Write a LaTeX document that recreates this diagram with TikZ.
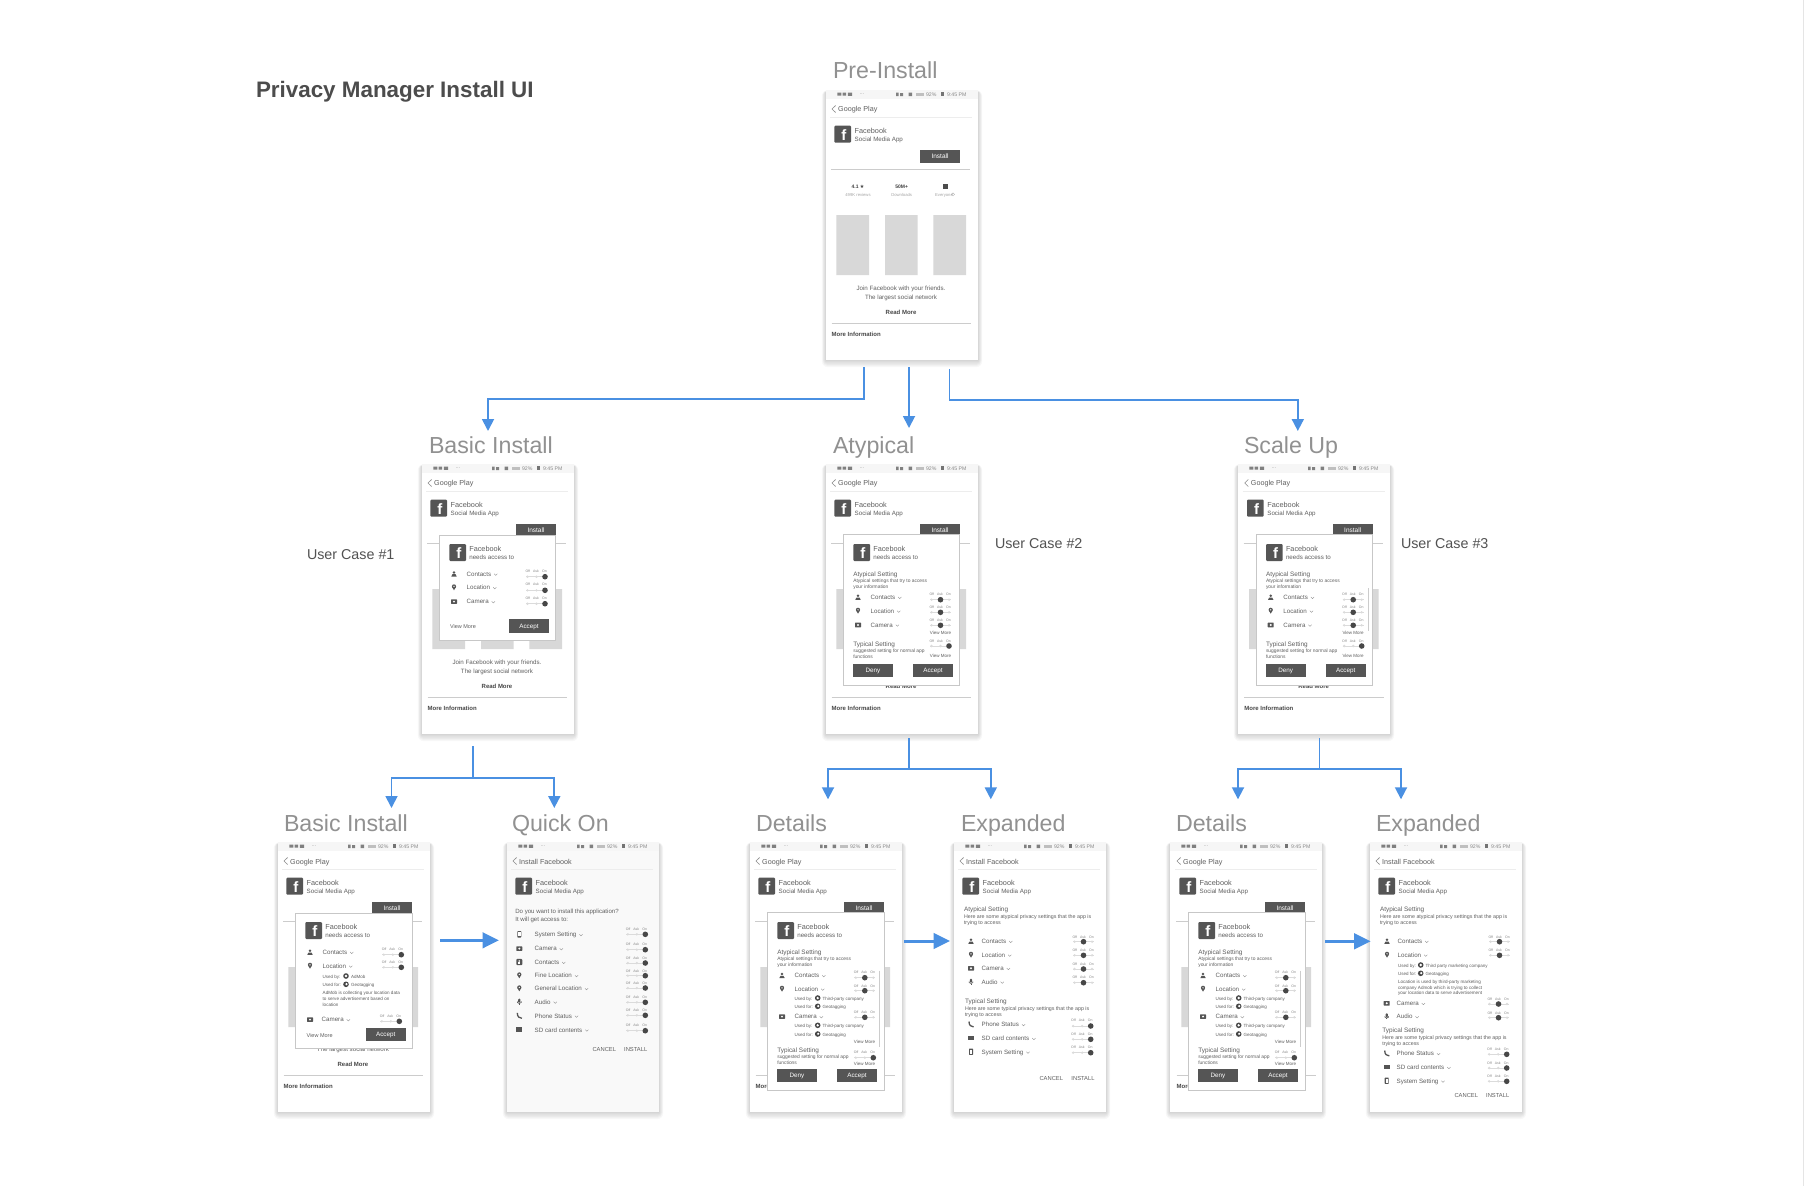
\documentclass[tikz,border=0pt]{standalone}
\usepackage{fontspec}
\setmainfont{Liberation Sans}
\newfontfamily\djf{DejaVu Sans}
\usetikzlibrary{arrows.meta}
\definecolor{ink}{HTML}{555555}
\definecolor{tx}{HTML}{5f5f5f}
\definecolor{soft}{HTML}{8a8a8a}
\definecolor{ttl}{HTML}{919191}
\definecolor{rectg}{HTML}{D8D8D8}
\definecolor{flow}{HTML}{4A90E2}
\newcounter{nn}
\newcommand\fsz[1]{\fontsize{#1}{#1}\selectfont}
\tikzset{
  txt/.style={inner sep=0pt,outer sep=0pt},
  conn/.style={draw=flow,line width=1.8pt},
  arr/.style={conn,-{Triangle[width=12pt,length=12pt]}},
  bigarr/.style={draw=flow,line width=3pt,-{Triangle[width=15.5pt,length=16.5pt]}},
  chev/.style={draw=soft,line width=.35pt},
  dlg/.style={fill=white,draw=black!22,line width=.8pt},
  btn/.style={fill=ink,draw=none}
}
\newcommand\txL[5]{\stepcounter{nn}\node[txt,anchor=base west,text=#4,font=\fsz{#3}] (n\thenn) at (#1,#2+0.36*#3+.4) {#5};}
\newcommand\txC[5]{\stepcounter{nn}\node[txt,anchor=base,text=#4,font=\fsz{#3}] (n\thenn) at (#1,#2+0.36*#3+.4) {#5};}
\newcommand\txR[5]{\stepcounter{nn}\node[txt,anchor=base east,text=#4,font=\fsz{#3}] (n\thenn) at (#1,#2+0.36*#3+.4) {#5};}
\newcommand\RT[3]{\txL{#1}{#2}{6.2}{tx}{#3}\draw[chev] ([xshift=3pt,yshift=2.6pt]n\thenn.base east) -- ++(1.6,1.6) -- ++(1.6,-1.6);}
\newcommand\Ic[3]{\begin{scope}[shift={(#2,#3)}]\csname ic#1\endcsname\end{scope}}
\newcommand\icperson{\fill[ink] (0,-1.3) circle (1.4);\fill[ink] (-2.7,2.8) -- (-1.5,0.5) -- (1.5,0.5) -- (2.7,2.8) -- cycle;}
\newcommand\icpin{\fill[ink] (-1.9,-.4) -- (0,3) -- (1.9,-.4) -- cycle;\fill[ink] (0,-.9) circle (2.1);\fill[white] (0,-.9) circle (.7);}
\newcommand\iccam{\fill[ink,rounded corners=.5] (-3,-2) rectangle (3,2.6);\fill[white] (0,.3) circle (1.1);}
\newcommand\icmic{\fill[ink,rounded corners=.9] (-1.1,-3) rectangle (1.1,1);\draw[ink,line width=.6] (-1.9,-.3) -- (-1.9,.8) -- (0,1.8) -- (1.9,.8) -- (1.9,-.3);\draw[ink,line width=.6] (0,1.8) -- (0,3);}
\newcommand\icphone{\draw[ink,line width=1.3] (-2,-2.8) .. controls (-2,1) and (0,2.6) .. (2.6,2.6);}
\newcommand\icfolder{\fill[ink] (-3.2,-2.4) rectangle (3,2.2);}
\newcommand\icdev{\fill[ink,rounded corners=.6] (-2,-3.2) rectangle (2,3.2);\fill[white] (-1.2,-2) rectangle (1.2,1.8);}
\newcommand\iccont{\fill[ink,rounded corners=1] (-3,-3.2) rectangle (3,3.2);\fill[white] (0,-1) circle (.9);\fill[white] (-1.1,.2) rectangle (1.1,2);}
\newcommand\row[5]{\Ic{#1}{#2}{#4}\RT{#3}{#4}{#5}}
\newcommand\togx[4]{%
  \draw[black!14,line width=.8pt] (#1,#2) -- (#1+21,#2);
  \fill[black!14] (#1+1.5,#2) circle (1.3) (#1+10.5,#2) circle (1.3) (#1+19,#2) circle (1.3);
  \ifcase#4\fill[black!72] (#1+1.5,#2) circle (2.8);\or\fill[black!72] (#1+10.5,#2) circle (2.8);\or\fill[black!72] (#1+19,#2) circle (2.8);\fi
  \txC{#1+1.8}{#3}{3.5}{soft}{Off}\txC{#1+10}{#3}{3.5}{soft}{Ask}\txC{#1+18.5}{#3}{3.5}{soft}{On}}
\newcommand\logox[2]{\fill[ink,rounded corners=1] (#1,#2) rectangle (#1+16.7,#2+17);\txC{#1+9.5}{#2+9}{15}{white}{\textbf{f}}}
\newcommand\btnx[3]{\fill[btn] (#1,#2) rectangle (#1+40,#2+13.3);\txC{#1+20}{#2+6.2}{6.3}{white}{#3}}
\newcommand\Frame[1]{%
  \foreach \i in {6,5,4,3,2,1}{\fill[black,opacity=.028,rounded corners=\i] (-.7*\i,2-.3*\i) rectangle (152+.7*\i,270+1.2*\i);}
  \fill[#1] (0,0) rectangle (152,270);
  \fill[black!3.5] (0,0) rectangle (152,9);}
\newcommand\Status{%
  \fill[black!50] (11.3,2.5) rectangle (15.3,5.5) (16.6,2.5) rectangle (20.2,5.5) (21.8,2.5) rectangle (26,5.8);
  \txL{33.5}{3.6}{5}{soft}{···}
  \fill[black!50] (70,2.5) rectangle (72.5,6) (74,3) rectangle (77,6) (82.5,2.5) rectangle (86,6);
  \fill[black!25] (89.5,3) rectangle (98,6);
  \txL{100}{4}{5.2}{soft}{92\%}
  \fill[black!55] (115.2,2.4) rectangle (118,6);
  \txR{140.5}{4}{5.2}{soft}{9:45 PM}}
\newcommand\Head[1]{%
  \draw[soft,line width=.6pt] (9.6,15.5) -- (6,19) -- (9.6,22.5);
  \txL{12.2}{19}{7.2}{tx}{#1}
  \draw[black!7,line width=1pt] (4,27) -- (146,27);}
\newcommand\App{\logox{8.3}{35.7}\txL{28.7}{40}{7.3}{tx}{Facebook}\txL{28.7}{49.3}{6.2}{tx}{Social Media App}}
\newcommand\BaseTop{%
  \Head{Google Play}\App
  \fill[btn] (94,60) rectangle (134,73);\txC{114}{66.2}{6.5}{white}{Install}
  \draw[black!20,line width=.7pt] (5,79.3) -- (144,79.3);
  \fill[rectg] (10.3,125) rectangle (43,185) (59,125) rectangle (91.7,185) (107.3,125) rectangle (140,185);}
\newcommand\Stats{%
  \txC{32}{96.3}{5}{black!75}{\textbf{4.1} {\djf ★}}\txC{32}{104.3}{4.2}{black!35}{499K reviews}
  \txC{75.7}{96.3}{5}{black!75}{\textbf{50M+}}\txC{75.7}{104.3}{4.2}{black!35}{Downloads}
  \fill[black!70] (117,93.5) rectangle (122,99);\txC{118}{104.3}{4.2}{black!35}{Everyone}
  \draw[black!35,line width=.3pt] (127,104.4) circle (1.6);}
\newcommand\JoinT{\txC{75}{198}{6.2}{tx}{Join Facebook with your friends.}}
\newcommand\LargestT{\txC{75}{207}{6.2}{tx}{The largest social network}}
\newcommand\ReadM{\txC{75}{222.3}{6}{black!72}{\textbf{Read More}}}
\newcommand\MoreI{%
  \draw[black!20,line width=.7pt] (5.7,233.5) -- (145,233.5);
  \txL{5.7}{244.2}{6}{black!72}{\textbf{More Information}}}
\newcommand\DlgHead{\logox{27.3}{80}\txL{47.3}{84}{7.3}{tx}{Facebook}\txL{47.3}{93.3}{6.2}{tx}{needs access to}}
\newcommand\DlgBasic{%
  \fill[dlg] (17.7,71) rectangle (133.7,176.3);\DlgHead
  \row{person}{32}{44.7}{109.7}{Contacts}\togx{104}{112.7}{107}{2}
  \row{pin}{32}{44.7}{123.3}{Location}\togx{104}{126.3}{120.3}{2}
  \row{cam}{32}{44.7}{137.3}{Camera}\togx{104}{139.7}{134}{2}
  \txL{28}{161.7}{5.5}{tx}{View More}\btnx{87}{155.3}{Accept}}
\newcommand\AtyHead{%
  \txL{27.3}{109.3}{6.4}{tx}{Atypical Setting}
  \txL{27.3}{116.3}{4.9}{tx}{Atypical settings that try to access}
  \txL{27.3}{122}{4.9}{tx}{your information}}
\newcommand\DlgAty[1]{%
  \fill[dlg] (17.3,70.3) rectangle (133.7,221.3);\DlgHead\AtyHead
  \row{person}{32}{44.7}{133}{Contacts}\togx{104}{135.7}{130}{1}
  \row{pin}{32}{44.7}{146.7}{Location}\togx{104}{148.3}{143}{1}
  \row{cam}{32}{44.7}{160.7}{Camera}\togx{104}{161.3}{156}{1}
  \txR{125}{168.3}{4.5}{tx}{View More}
  \txL{27.3}{179.3}{6.4}{tx}{Typical Setting}
  \txL{27.3}{186.3}{4.9}{tx}{suggested setting for normal app}
  \txL{27.3}{192}{4.9}{tx}{functions}
  \togx{104}{182}{176.7}{2}
  \txR{125}{191.3}{4.5}{tx}{View More}
  #1
  \btnx{27}{199.7}{Deny}\btnx{87}{199.7}{Accept}}
\newcommand\Used[5]{%
  \txL{#1}{#2}{4.5}{tx}{Used by:}\fill[black!72] (#3,#2) circle (2.8);\fill[white] (#3,#2) circle (1.3);\txL{#3+5}{#2}{4.5}{tx}{#4}
  \txL{#1}{#5}{4.5}{tx}{Used for:}\fill[black!72] (#3,#5) circle (2.8);\fill[white] (#3+.5,#5-.2) circle (1.2);\txL{#3+5}{#5}{4.5}{tx}{Geotagging}}
\newcommand\DlgBasicLong{%
  \fill[dlg] (17.7,71.3) rectangle (134.7,206.7);\DlgHead
  \row{person}{32}{44.7}{110}{Contacts}\togx{104.3}{112.7}{107.3}{2}
  \row{pin}{32}{44.7}{123.7}{Location}\togx{104.3}{125.3}{120.3}{2}
  \Used{44.7}{134}{68}{AdMob}{142.3}
  \txL{44.7}{150.3}{4.6}{tx}{AdMob is collecting your location data}
  \txL{44.7}{156.3}{4.6}{tx}{to serve advertisement based on}
  \txL{44.7}{162.3}{4.6}{tx}{location}
  \row{cam}{32}{43.7}{177.3}{Camera}\togx{102.3}{179.3}{174.3}{2}
  \txL{28.7}{192.7}{5.5}{tx}{View More}\btnx{87.7}{186}{Accept}}
\newcommand\DlgDet{%
  \fill[dlg] (17.7,70.7) rectangle (134,248.3);\DlgHead\AtyHead
  \row{person}{32}{44.7}{133.3}{Contacts}\togx{104.3}{135.7}{130.3}{1}
  \row{pin}{32}{44.7}{146.7}{Location}\togx{104.3}{148.7}{143.7}{1}
  \Used{44.7}{156}{67.7}{Third-party company}{164.3}
  \row{cam}{32}{44.7}{174.3}{Camera}\togx{104.3}{175.3}{170}{1}
  \Used{44.7}{183.3}{67.7}{Third-party company}{192}
  \txR{125}{199}{4.5}{tx}{View More}
  \draw[black!20,line width=1.3pt] (129.7,128.7) -- (129.7,205.3);
  \txL{27.3}{207.3}{6.4}{tx}{Typical Setting}
  \txL{27.3}{214.3}{4.9}{tx}{suggested setting for normal app}
  \txL{27.3}{220}{4.9}{tx}{functions}
  \togx{104.3}{215.7}{210.3}{2}
  \txR{125}{221.3}{4.5}{tx}{View More}
  \btnx{27}{227}{Deny}\btnx{87}{227}{Accept}}
\newcommand\Screen[5]{\begin{scope}[shift={(#1,#2)}]\Frame{#4}\Status\begin{scope}[shift={(#3,0)}]#5\end{scope}\end{scope}}
\newcommand\Ttl[3]{\txL{#1}{#2}{23.2}{ttl}{#3}}
\begin{document}
\begin{tikzpicture}[x=1pt,y=-1pt]
\useasboundingbox (0,0) rectangle (1804,1186);
\fill[white] (0,0) rectangle (1804,1186);
\draw[black!10,line width=.8pt] (1803.4,0) -- (1803.4,1186);
\txL{256}{89.5}{22.4}{black!70}{\textbf{Privacy Manager Install UI}}
\Ttl{833}{69.5}{Pre-Install}
\Ttl{429}{444.5}{Basic Install}
\Ttl{833}{444.5}{Atypical}
\Ttl{1244}{444.5}{Scale Up}
\Ttl{284}{823}{Basic Install}
\Ttl{512}{823}{Quick On}
\Ttl{756}{823}{Details}
\Ttl{961}{823}{Expanded}
\Ttl{1176}{823}{Details}
\Ttl{1376}{823}{Expanded}
\txL{307}{553.5}{14.3}{black!68}{User Case \#1}
\txL{995}{543}{14.3}{black!68}{User Case \#2}
\txL{1401}{543}{14.3}{black!68}{User Case \#3}
% screens
\Screen{826}{90}{0}{white}{\BaseTop\Stats\JoinT\LargestT\ReadM\MoreI}
\Screen{422}{464}{0}{white}{\BaseTop\JoinT\LargestT\ReadM\MoreI\DlgBasic}
\Screen{826}{464}{0}{white}{\BaseTop\ReadM\MoreI\DlgAty{}}
\Screen{1238}{464}{.7}{white}{\BaseTop\ReadM\MoreI\DlgAty{\draw[black!20,line width=1.3pt] (129.5,124) -- (129.5,167);}}
\Screen{278}{842}{0}{white}{\BaseTop\LargestT\ReadM\MoreI\DlgBasicLong}
\Screen{507}{842}{0}{black!2.5}{%
  \Head{Install Facebook}\App
  \txL{8.3}{68.7}{6.1}{tx}{Do you want to install this application?}
  \txL{8.3}{77.3}{6.1}{tx}{It will get access to:}
  \row{dev}{12.3}{27.7}{92.3}{System Setting}\togx{119.3}{92.3}{87.3}{2}
  \row{cam}{12.3}{27.7}{106.3}{Camera}\togx{119.3}{107.7}{102.3}{2}
  \row{cont}{12.3}{27.7}{120}{Contacts}\togx{119.3}{121}{115.7}{2}
  \row{pin}{12.3}{27.7}{133.3}{Fine Location}\togx{119.3}{133.7}{128.7}{2}
  \row{pin}{12.3}{27.7}{146.3}{General Location}\togx{119.3}{146}{140.7}{2}
  \row{mic}{12.3}{27.7}{159.7}{Audio}\togx{119.3}{160.3}{155}{2}
  \row{phone}{12.3}{27.7}{173.7}{Phone Status}\togx{119.3}{173.3}{168}{2}
  \row{folder}{12.3}{27.7}{187.7}{SD card contents}\togx{119.3}{188.7}{183.3}{2}
  \txC{97.3}{206.7}{5.8}{tx}{CANCEL}\txC{128.7}{206.7}{5.8}{tx}{INSTALL}}
\Screen{750}{842}{0}{white}{\BaseTop\MoreI\DlgDet}
\Screen{954}{842}{0}{white}{%
  \Head{Install Facebook}\App
  \txL{10}{66.3}{6.4}{tx}{Atypical Setting}
  \txL{10}{74}{5.3}{tx}{Here are some atypical privacy settings that the app is}
  \txL{10}{80}{5.3}{tx}{trying to access}
  \row{person}{17}{27.7}{99}{Contacts}\togx{119}{99.7}{94.7}{1}
  \row{pin}{17}{27.7}{112.7}{Location}\togx{119}{113.3}{108.3}{1}
  \row{cam}{17}{27.7}{126}{Camera}\togx{119}{127}{121.7}{1}
  \row{mic}{17}{27.7}{139.7}{Audio}\togx{119}{140.7}{135}{1}
  \txL{11}{159}{6.4}{tx}{Typical Setting}
  \txL{11}{166.3}{5.3}{tx}{Here are some typical privacy settings that the app is}
  \txL{11}{172.3}{5.3}{tx}{trying to access}
  \row{phone}{17}{27.7}{182.3}{Phone Status}\togx{117.7}{184}{178.3}{2}
  \row{folder}{17}{27.7}{196}{SD card contents}\togx{117.7}{197.3}{191.7}{2}
  \row{dev}{17}{27.7}{209.7}{System Setting}\togx{117.7}{210.7}{205.3}{2}
  \txC{97.3}{236.3}{5.8}{tx}{CANCEL}\txC{129}{236.3}{5.8}{tx}{INSTALL}}
\Screen{1170}{842}{1}{white}{\BaseTop\MoreI\DlgDet}
\Screen{1370}{842}{0}{white}{%
  \Head{Install Facebook}\App
  \txL{10}{66.3}{6.4}{tx}{Atypical Setting}
  \txL{10}{74}{5.3}{tx}{Here are some atypical privacy settings that the app is}
  \txL{10}{80}{5.3}{tx}{trying to access}
  \row{person}{17}{27.7}{99}{Contacts}\togx{119}{99.7}{94.7}{1}
  \row{pin}{17}{27.7}{112.7}{Location}\togx{119}{113.3}{108.3}{1}
  \Used{28}{123}{50.7}{Third party marketing company}{131.3}
  \txL{28}{139.3}{4.6}{tx}{Location is used by third-party marketing}
  \txL{28}{145}{4.6}{tx}{company Admob which is trying to collect}
  \txL{28}{150.7}{4.6}{tx}{your location data to serve advertisement}
  \row{cam}{16.7}{26.7}{161}{Camera}\togx{118}{162}{157}{1}
  \row{mic}{16.7}{26.7}{174.3}{Audio}\togx{118}{175.7}{170.7}{1}
  \txL{12.3}{188}{6.4}{tx}{Typical Setting}
  \txL{12.3}{195.3}{5.3}{tx}{Here are some typical privacy settings that the app is}
  \txL{12.3}{201.3}{5.3}{tx}{trying to access}
  \row{phone}{16.7}{26.7}{211.3}{Phone Status}\togx{117.7}{212.3}{207.3}{2}
  \row{folder}{16.7}{26.7}{225}{SD card contents}\togx{117.7}{226}{220.7}{2}
  \row{dev}{16.7}{26.7}{238.7}{System Setting}\togx{117.7}{239.3}{234.3}{2}
  \txC{96.3}{253.3}{5.8}{tx}{CANCEL}\txC{127.7}{253.3}{5.8}{tx}{INSTALL}}
% connector anchors
\coordinate (preL) at (864,367);\coordinate (preLk) at (864,399);\coordinate (toBasic) at (488,431);
\coordinate (preM) at (909,367);\coordinate (toAty) at (909,428);
\coordinate (preR) at (949.4,369);\coordinate (preRk) at (949.4,400);\coordinate (toScale) at (1297.8,431);
\coordinate (bS) at (473,746);\coordinate (bJ) at (473,777.7);\coordinate (bL) at (391.5,808);\coordinate (bR) at (554.3,808);
\coordinate (aS) at (909,738);\coordinate (aJ) at (909,769);\coordinate (aL) at (828,799.3);\coordinate (aR) at (990.8,799.3);
\coordinate (sS) at (1319.4,738);\coordinate (sJ) at (1319.4,769);\coordinate (sL) at (1238,799.3);\coordinate (sR) at (1401,799.3);
\coordinate (h1a) at (440,940.3);\coordinate (h1b) at (499,940.3);
\coordinate (h2a) at (904,941);\coordinate (h2b) at (950,941);
\coordinate (h3a) at (1325,941.3);\coordinate (h3b) at (1370.7,941.3);
\draw[arr] (preL) -- (preLk) -| (toBasic);
\draw[arr] (preM) -- (toAty);
\draw[arr] (preR) -- (preRk) -| (toScale);
\draw[conn] (bS) -- (bJ);\draw[arr] (bJ) -| (bL);\draw[arr] (bJ) -| (bR);
\draw[conn] (aS) -- (aJ);\draw[arr] (aJ) -| (aL);\draw[arr] (aJ) -| (aR);
\draw[conn] (sS) -- (sJ);\draw[arr] (sJ) -| (sL);\draw[arr] (sJ) -| (sR);
\draw[bigarr] (h1a) -- (h1b);
\draw[bigarr] (h2a) -- (h2b);
\draw[bigarr] (h3a) -- (h3b);
\end{tikzpicture}
\end{document}
